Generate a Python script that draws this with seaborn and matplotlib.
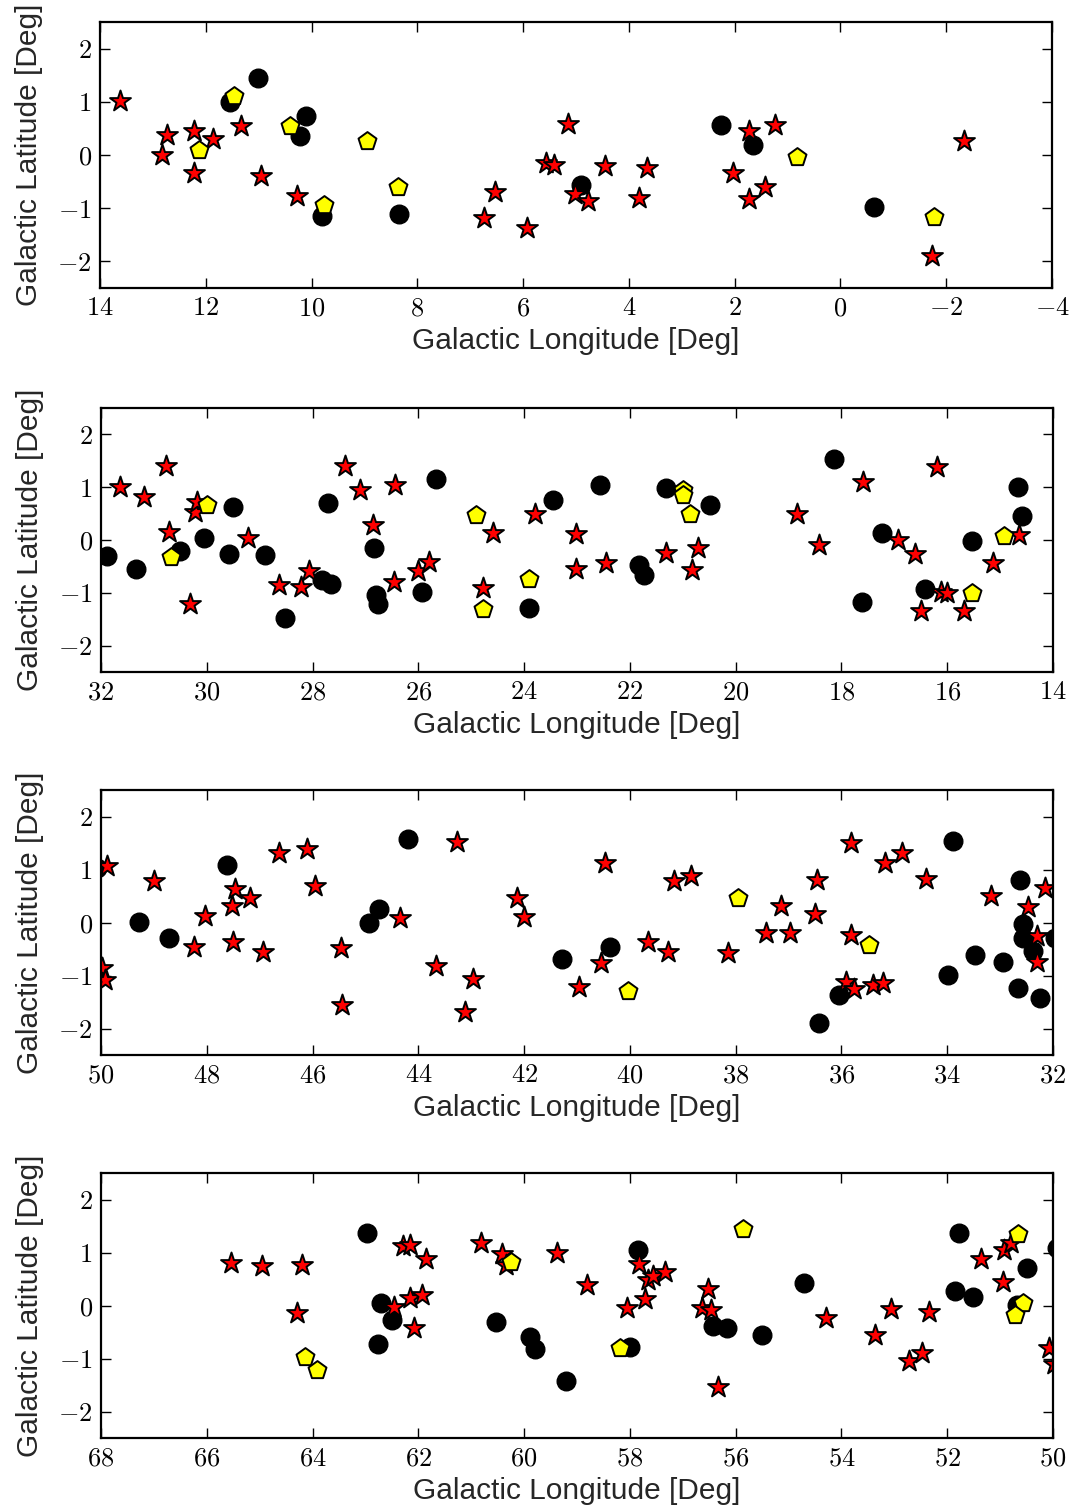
import matplotlib
matplotlib.use("Agg")
import matplotlib.pyplot as plt
from matplotlib.ticker import FuncFormatter, MultipleLocator
import seaborn as sns
import pandas as pd

# ---------------- data ----------------
xlims = [(14, -4), (32, 14), (50, 32), (68, 50)]

p1_star_l = [13.62, 12.82, 12.73, 12.22, 12.23, 11.86, 11.33, 10.95, 10.27, 6.74, 6.53, 5.92, 5.57, 5.41,
             5.15, 5.01, 4.77, 4.45, 3.80, 3.66, 2.04, 1.73, 1.73, 1.43, 1.23, -2.34, -1.74]
p1_star_b = [1.01, 0.00, 0.38, 0.45, -0.33, 0.31, 0.55, -0.40, -0.78, -1.18, -0.69, -1.37, -0.15, -0.18,
             0.59, -0.73, -0.86, -0.21, -0.80, -0.25, -0.34, 0.46, -0.82, -0.60, 0.57, 0.27, -1.90]
p1_circ_l = [11.01, 11.54, 10.11, 10.22, 9.81, 8.34, 4.90, 2.26, 1.66, -0.64]
p1_circ_b = [1.45, 1.00, 0.74, 0.35, -1.14, -1.10, -0.57, 0.56, 0.19, -0.98]
p1_pent_l = [11.46, 10.40, 12.12, 9.76, 8.95, 8.37, 0.82, -1.77]
p1_pent_b = [1.10, 0.55, 0.09, -0.94, 0.27, -0.60, -0.04, -1.17]

p2_star_l = [31.64, 31.18, 30.77, 30.72, 30.23, 30.19, 30.31, 29.22, 28.63, 28.21, 28.06, 27.38, 27.10,
             26.85, 26.46, 26.44, 26.00, 25.79, 24.78, 24.59, 23.80, 23.01, 23.01, 22.45, 21.32, 20.82,
             20.71, 18.84, 18.43, 17.60, 16.93, 16.61, 16.19, 16.49, 16.12, 16.01, 15.69, 15.14, 14.65]
p2_star_b = [1.00, 0.81, 1.41, 0.15, 0.53, 0.72, -1.22, 0.03, -0.86, -0.89, -0.59, 1.40, 0.95,
             0.29, -0.80, 1.04, -0.58, -0.42, -0.91, 0.13, 0.50, 0.11, -0.55, -0.43, -0.25, -0.57,
             -0.16, 0.49, -0.10, 1.09, 0.00, -0.26, 1.39, -1.35, -0.98, -1.00, -1.35, -0.43, 0.10]
p2_circ_l = [31.89, 31.33, 30.51, 30.05, 29.50, 29.58, 28.90, 28.53, 27.71, 27.82, 27.66, 26.84, 26.80,
             26.76, 25.93, 25.66, 23.91, 23.45, 22.57, 21.83, 21.74, 21.31, 20.48, 18.15, 17.62, 17.24,
             16.42, 15.54, 14.66, 14.59]
p2_circ_b = [-0.31, -0.54, -0.21, 0.03, 0.62, -0.26, -0.28, -1.48, 0.70, -0.76, -0.83, -0.16, -1.05,
             -1.22, -0.98, 1.15, -1.28, 0.75, 1.05, -0.47, -0.67, 0.98, 0.67, 1.53, -1.17, 0.13,
             -0.93, -0.02, 1.01, 0.46]
p2_pent_l = [30.68, 30.00, 24.91, 24.78, 23.90, 20.99, 20.99, 20.86, 15.54, 14.93]
p2_pent_b = [-0.33, 0.66, 0.47, -1.30, -0.73, 0.94, 0.86, 0.50, -1.00, 0.08]

p3_star_l = [49.88, 49.99, 49.92, 49.00, 48.03, 48.25, 47.46, 47.52, 47.51, 47.18, 46.94, 46.63, 46.10,
             45.96, 45.46, 45.45, 44.35, 43.66, 43.26, 42.97, 43.11, 42.13, 42.00, 40.97, 40.48, 40.55,
             39.65, 39.27, 39.17, 38.84, 38.15, 37.42, 37.15, 36.98, 36.50, 36.47, 35.82, 35.82, 35.91,
             35.77, 35.40, 35.22, 35.18, 34.85, 34.41, 33.18, 32.48, 32.30, 32.30, 32.15]
p3_star_b = [1.07, -0.85, -1.09, 0.78, 0.13, -0.47, 0.63, 0.32, -0.36, 0.46, -0.55, 1.32, 1.38,
             0.69, -0.49, -1.56, 0.09, -0.82, 1.51, -1.07, -1.69, 0.47, 0.11, -1.22, 1.12, -0.76,
             -0.36, -0.56, 0.79, 0.87, -0.58, -0.19, 0.31, -0.20, 0.16, 0.81, 1.50, -0.24, -1.12,
             -1.26, -1.17, -1.14, 1.13, 1.32, 0.82, 0.50, 0.30, -0.26, -0.74, 0.65]
p3_circ_l = [50.08, 50.08, 49.28, 48.71, 47.62, 44.93, 44.74, 44.19, 41.28, 40.37, 36.43, 36.05, 33.90,
             33.99, 33.47, 32.95, 32.62, 32.56, 32.57, 32.38, 32.67, 32.24, 31.97]
p3_circ_b = [1.03, -0.98, 0.01, -0.29, 1.09, -0.01, 0.26, 1.57, -0.69, -0.47, -1.90, -1.37, 1.53,
             -0.99, -0.61, -0.74, 0.81, -0.03, -0.29, -0.54, -1.24, -1.43, -0.29]
p3_pent_l = [37.96, 35.48, 40.03]
p3_pent_b = [0.47, -0.43, -1.29]

p4_star_l = [65.54, 64.95, 64.20, 64.30, 62.46, 62.29, 62.15, 62.15, 61.93, 62.08, 61.85, 60.81, 60.42,
             60.35, 59.37, 58.82, 58.05, 57.83, 57.65, 57.57, 57.72, 57.33, 56.53, 56.63, 56.46, 56.34,
             54.30, 53.37, 53.06, 52.72, 52.48, 52.34, 51.37, 50.93, 50.80, 50.94, 50.07, 49.98]
p4_star_b = [0.81, 0.75, 0.77, -0.14, -0.02, 1.12, 1.15, 0.14, 0.20, -0.43, 0.88, 1.17, 0.98,
             0.77, 1.00, 0.38, -0.04, 0.79, 0.48, 0.55, 0.13, 0.63, 0.31, -0.04, -0.09, -1.53,
             -0.24, -0.55, -0.07, -1.05, -0.89, -0.13, 0.88, 1.04, 1.18, 0.45, -0.80, -1.11]
p4_circ_l = [62.98, 62.71, 62.50, 62.76, 60.54, 59.89, 59.79, 59.20, 57.84, 57.99, 56.43, 56.16, 55.51,
             54.71, 51.78, 51.85, 51.51, 50.49, 50.69, 49.93]
p4_circ_b = [1.37, 0.05, -0.27, -0.73, -0.32, -0.60, -0.83, -1.43, 1.04, -0.78, -0.38, -0.42, -0.56,
             0.42, 1.36, 0.27, 0.16, 0.70, 0.01, 1.08]
p4_pent_l = [64.14, 63.92, 60.25, 55.86, 58.19, 50.67, 50.56, 50.72]
p4_pent_b = [-0.98, -1.22, 0.83, 1.44, -0.80, 1.34, 0.05, -0.18]

panels = [
    (p1_star_l, p1_star_b, p1_circ_l, p1_circ_b, p1_pent_l, p1_pent_b),
    (p2_star_l, p2_star_b, p2_circ_l, p2_circ_b, p2_pent_l, p2_pent_b),
    (p3_star_l, p3_star_b, p3_circ_l, p3_circ_b, p3_pent_l, p3_pent_b),
    (p4_star_l, p4_star_b, p4_circ_l, p4_circ_b, p4_pent_l, p4_pent_b),
]

# ---------------- style ----------------
sns.set_style("ticks")
plt.rcParams["font.family"] = ["Liberation Sans", "DejaVu Sans"]
plt.rcParams["mathtext.fontset"] = "cm"

fig = plt.figure(figsize=(10.76, 15.05), dpi=100)
W, H = 1076.0, 1505.0
boxes = [(100, 22, 1052, 288), (101, 408, 1053, 672), (101, 790, 1053, 1055), (101, 1173, 1053, 1438)]

fmt = FuncFormatter(lambda v, p: r"$%d$" % round(v))

for (x0, y0, x1, y1), lim, data in zip(boxes, xlims, panels):
    ax = fig.add_axes([x0 / W, 1 - y1 / H, (x1 - x0) / W, (y1 - y0) / H])
    sl, sb, cl, cb, pl, pb = data
    sns.scatterplot(x=cl, y=cb, ax=ax, marker="o", s=180, color="black",
                    edgecolor="black", linewidth=1.0, legend=False)
    sns.scatterplot(x=sl, y=sb, ax=ax, marker="*", s=250, color="red",
                    edgecolor="black", linewidth=1.4, legend=False)
    sns.scatterplot(x=pl, y=pb, ax=ax, marker="p", s=185, color="yellow",
                    edgecolor="black", linewidth=1.4, legend=False)
    ax.set_xlim(*lim)
    ax.set_ylim(-2.5, 2.5)
    ax.xaxis.set_major_locator(MultipleLocator(2))
    ax.yaxis.set_major_locator(MultipleLocator(1))
    ax.xaxis.set_major_formatter(fmt)
    ax.yaxis.set_major_formatter(fmt)
    ax.tick_params(direction="in", top=True, right=True, length=7, width=1,
                   labelsize=19, colors="black", pad=6)
    for sp in ax.spines.values():
        sp.set_visible(True)
        sp.set_linewidth(1.6)
        sp.set_color("black")
    ax.set_xlabel("Galactic Longitude [Deg]", fontsize=21.5, labelpad=5)
    ax.set_ylabel("Galactic Latitude [Deg]", fontsize=21.5, labelpad=10)

fig.savefig("out.png", dpi=100)
